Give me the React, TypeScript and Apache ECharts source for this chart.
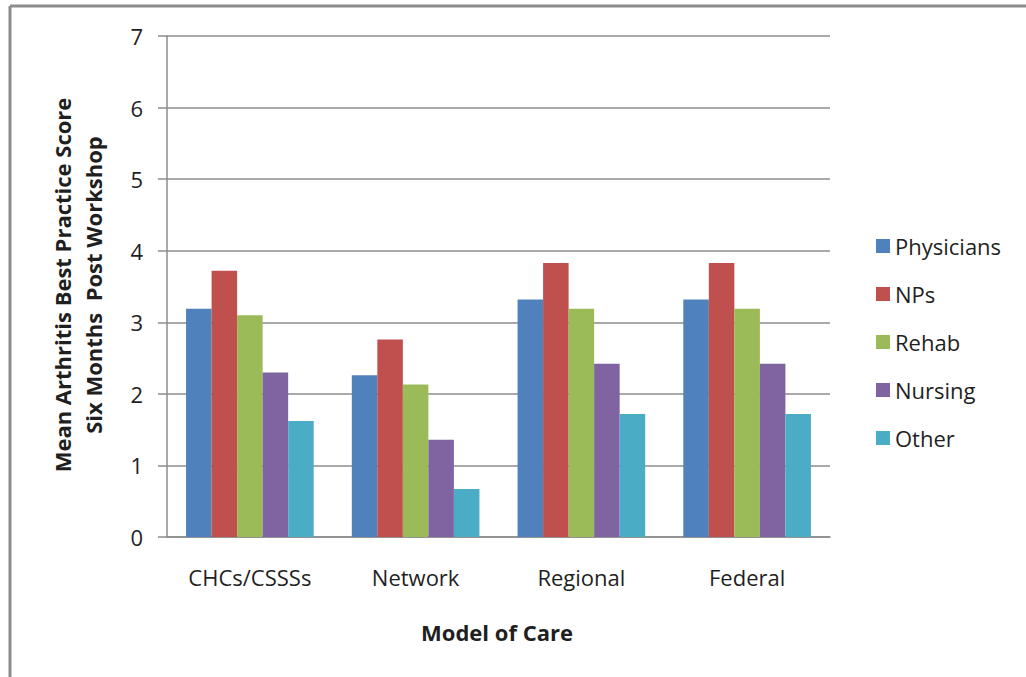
import React, { useEffect, useRef } from "react";
import * as echarts from "echarts";

const categories = ["CHCs/CSSSs", "Network", "Regional", "Federal"];
const seriesNames = ["Physicians", "NPs", "Rehab", "Nursing", "Other"];
const physicians = [3.19, 2.26, 3.32, 3.32];
const nps = [3.72, 2.76, 3.83, 3.83];
const rehab = [3.1, 2.13, 3.19, 3.19];
const nursing = [2.3, 1.36, 2.42, 2.42];
const other = [1.62, 0.67, 1.72, 1.72];
const seriesValues = [physicians, nps, rehab, nursing, other];
const colors = ["#4F81BD", "#C0504D", "#9BBB59", "#8064A2", "#4BACC6"];
const yTitle = "Mean Arthritis Best Practice Score\nSix Months  Post Workshop";
const xTitle = "Model of Care";

const FONT = "'Open Sans', sans-serif";
const TEXT = "#1f1f1f";

export default function App() {
  const ref = useRef<HTMLDivElement>(null);
  useEffect(() => {
    if (!ref.current) return;
    const chart = echarts.init(ref.current, null, { renderer: "svg" });
    chart.setOption({
      animation: false,
      backgroundColor: "#ffffff",
      textStyle: { fontFamily: FONT },
      grid: { left: 167, right: 196, top: 36, bottom: 140, containLabel: false },
      legend: {
        orient: "vertical",
        left: 871,
        top: 229,
        itemWidth: 14,
        itemHeight: 14,
        itemGap: 24,
        icon: "rect",
        data: seriesNames,
        textStyle: { fontFamily: FONT, fontSize: 22, color: TEXT, lineHeight: 24 },
      },
      xAxis: {
        type: "category",
        data: categories,
        axisLine: { show: true, lineStyle: { color: "#8c8c8c", width: 1.5 } },
        axisTick: { show: false },
        axisLabel: { fontFamily: FONT, fontSize: 22, color: TEXT, margin: 29 },
      },
      yAxis: {
        type: "value",
        min: 0,
        max: 7,
        interval: 1,
        axisLine: { show: true, lineStyle: { color: "#8c8c8c", width: 1.5 } },
        axisTick: { show: true, inside: false, length: 9, lineStyle: { color: "#8c8c8c", width: 1.5 } },
        splitLine: { show: true, lineStyle: { color: "#8c8c8c", width: 1.5 } },
        axisLabel: { fontFamily: FONT, fontSize: 22, color: TEXT, margin: 24 },
      },
      series: seriesNames.map((name, i) => ({
        name,
        type: "bar",
        data: seriesValues[i],
        barGap: "0%",
        barCategoryGap: "23%",
        itemStyle: { color: colors[i] },
      })),
      graphic: [
        {
          type: "line",
          shape: { x1: 10, y1: 6, x2: 1026, y2: 6 },
          style: { stroke: "#8c8c8c", lineWidth: 3 },
        },
        {
          type: "line",
          shape: { x1: 10, y1: 6, x2: 10, y2: 677 },
          style: { stroke: "#8c8c8c", lineWidth: 3 },
        },
        {
          type: "text",
          x: 77,
          y: 285,
          rotation: Math.PI / 2,
          style: {
            text: yTitle,
            fontFamily: FONT,
            fontSize: 22,
            fontWeight: "bold",
            fill: TEXT,
            align: "center",
            verticalAlign: "middle",
            lineHeight: 31,
          },
        },
        {
          type: "text",
          x: 497,
          y: 632,
          style: {
            text: xTitle,
            fontFamily: FONT,
            fontSize: 22,
            fontWeight: "bold",
            fill: TEXT,
            align: "center",
            verticalAlign: "middle",
          },
        },
      ],
    });
    return () => chart.dispose();
  }, []);
  return (
    <div
      ref={ref}
      style={{ position: "fixed", left: 0, top: 0, width: 1026, height: 677 }}
    />
  );
}
